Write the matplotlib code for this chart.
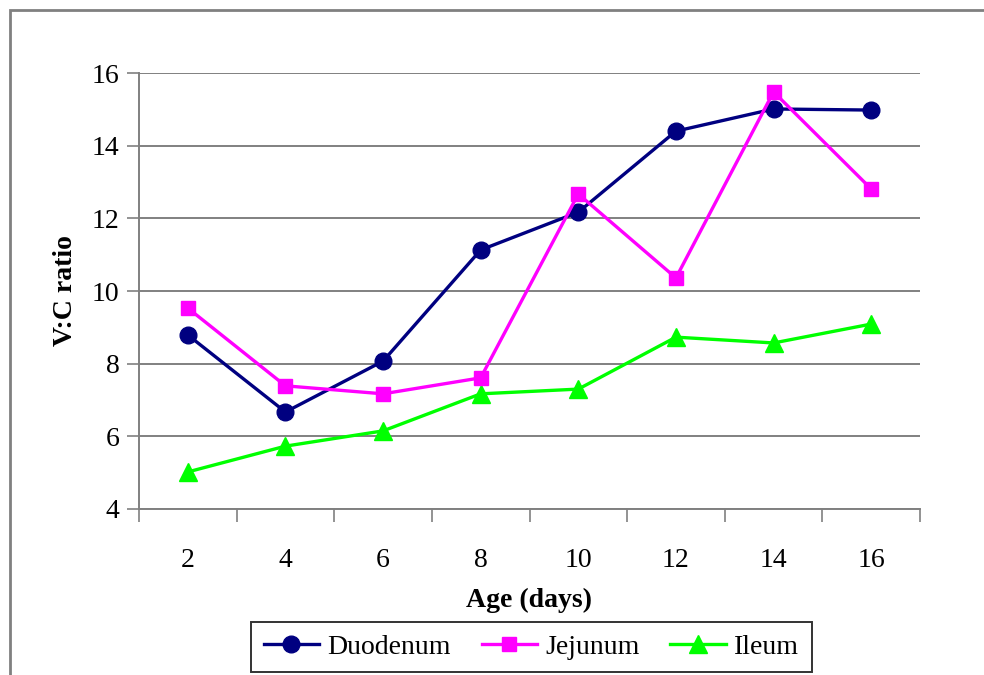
import matplotlib
matplotlib.use("Agg")
import matplotlib.pyplot as plt
from matplotlib.patches import Rectangle

ages = ["2", "4", "6", "8", "10", "12", "14", "16"]
duodenum = [8.79, 6.67, 8.07, 11.13, 12.17, 14.40, 15.01, 14.98]
jejunum = [9.53, 7.39, 7.17, 7.61, 12.67, 10.36, 15.48, 12.81]
ileum = [5.02, 5.73, 6.15, 7.17, 7.30, 8.73, 8.57, 9.09]
y_ticks = [4, 6, 8, 10, 12, 14, 16]

plt.rcParams['font.family'] = ['Liberation Serif', 'DejaVu Serif']

fig = plt.figure(figsize=(9.84, 6.75), dpi=100)
fig.patches.append(Rectangle((10/984, -0.1), 1.0, 1 - 10/675 + 0.1,
                             transform=fig.transFigure, fill=False,
                             edgecolor='#808080', linewidth=2.0, zorder=0))

ax = fig.add_axes([139/984, 1 - 509/675, (920 - 139)/984, (509 - 73)/675])
x = list(range(len(ages)))
ax.plot(x, duodenum, color='#000080', lw=2.4, marker='o', ms=12, label='Duodenum', zorder=3)
ax.plot(x, jejunum, color='#FF00FF', lw=2.4, marker='s', ms=10, label='Jejunum', zorder=4)
ax.plot(x, ileum, color='#00FF00', lw=2.4, marker='^', ms=13, label='Ileum', zorder=3)

ax.set_xlim(-0.5, len(ages) - 0.5)
ax.set_ylim(4, 16)
ax.set_yticks(y_ticks)
ax.set_xticks(x)
ax.set_xticklabels(ages)
ax.set_xticks([i - 0.5 for i in range(len(ages) + 1)], minor=True)
ax.tick_params(axis='x', which='major', length=0, pad=28, labelsize=20)
ax.tick_params(axis='x', which='minor', length=9, width=1.2, color='#808080', direction='out')
ax.tick_params(axis='y', length=9, width=1.2, color='#808080', direction='out', labelsize=20, pad=5)
ax.yaxis.grid(True, color='#808080', lw=1.4)
ax.set_axisbelow(True)
for s in ['top', 'right']:
    ax.spines[s].set_visible(False)
for s in ['left', 'bottom']:
    ax.spines[s].set_color('#808080')
    ax.spines[s].set_linewidth(1.4)

ax.set_ylabel('V:C ratio', fontsize=20, fontweight='bold', labelpad=10)
ax.set_xlabel('Age (days)', fontsize=20, fontweight='bold', labelpad=11)

leg = fig.legend(loc='center', bbox_to_anchor=(531.5/984, 1 - 647/675), ncol=3,
                 fontsize=20, frameon=True, fancybox=False, edgecolor='black',
                 handlelength=2.0, handletextpad=0.3, columnspacing=1.1,
                 borderpad=0.45, borderaxespad=0)
leg.get_frame().set_linewidth(1.4)

fig.savefig('out.png', dpi=100)
